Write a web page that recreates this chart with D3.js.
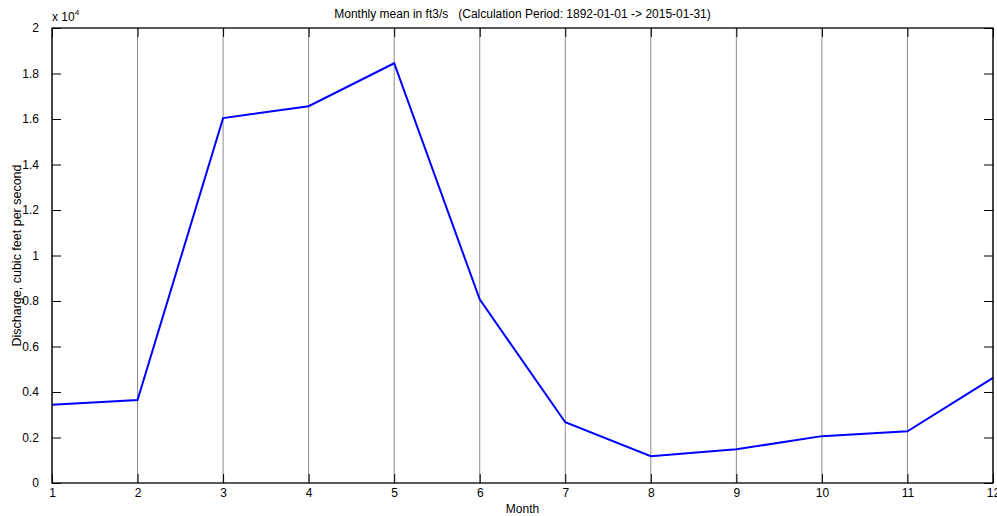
<!DOCTYPE html>
<html>
<head>
<meta charset="utf-8">
<script src="https://cdn.jsdelivr.net/npm/d3@7"></script>
<style>
  body { margin: 0; background: #fff; }
  svg text { font-family: "Liberation Sans", Arial, sans-serif; fill: #000; }
</style>
</head>
<body>
<div id="chart"></div>
<script>
// monthly mean discharge (ft3/s)
var months = [1, 2, 3, 4, 5, 6, 7, 8, 9, 10, 11, 12];
var discharge = [3440, 3650, 16040, 16560, 18450, 8070, 2670, 1180, 1480, 2060, 2270, 4620];
var yTicks = [0, 2000, 4000, 6000, 8000, 10000, 12000, 14000, 16000, 18000, 20000];

var W = 997, H = 516;
var m = {left: 52, right: 4, top: 28, bottom: 33};

var svg = d3.select("#chart").append("svg")
    .attr("width", W).attr("height", H);

var x = d3.scaleLinear().domain([1, 12]).range([m.left, W - m.right]);
var y = d3.scaleLinear().domain([0, 20000]).range([H - m.bottom, m.top]);

var tick = 9;

// vertical grid
svg.append("g").selectAll("line")
    .data(months)
  .enter().append("line")
    .attr("x1", function(d) { return x(d); })
    .attr("x2", function(d) { return x(d); })
    .attr("y1", y(0)).attr("y2", y(20000))
    .attr("stroke", "#8a8a8a").attr("stroke-width", 1);

// data line
var line = d3.line()
    .x(function(d, i) { return x(months[i]); })
    .y(function(d) { return y(d); });

svg.append("path")
    .datum(discharge)
    .attr("d", line)
    .attr("fill", "none")
    .attr("stroke", "#0000ff")
    .attr("stroke-width", 2);

// axes with inward ticks
var fmt = function(d) { return d3.format("")(+(d / 10000).toFixed(1)); };

svg.append("g")
    .attr("transform", "translate(0," + y(0) + ")")
    .call(d3.axisBottom(x).tickValues(months).tickSize(-tick).tickPadding(5).tickFormat(d3.format("d")))
    .call(function(g) { g.select(".domain").remove(); });

svg.append("g")
    .attr("transform", "translate(0," + y(20000) + ")")
    .call(d3.axisTop(x).tickValues(months).tickSize(-tick).tickFormat(""))
    .call(function(g) { g.select(".domain").remove(); });

svg.append("g")
    .attr("transform", "translate(" + x(1) + ",0)")
    .call(d3.axisLeft(y).tickValues(yTicks).tickSize(-tick).tickPadding(13).tickFormat(fmt))
    .call(function(g) { g.select(".domain").remove(); });

svg.append("g")
    .attr("transform", "translate(" + x(12) + ",0)")
    .call(d3.axisRight(y).tickValues(yTicks).tickSize(-tick).tickFormat(""))
    .call(function(g) { g.select(".domain").remove(); });

svg.selectAll(".tick line").attr("stroke", "#000").attr("stroke-width", 1);
svg.selectAll(".tick text").attr("font-size", 12).attr("fill", "#000")
    .style("font-family", "'Liberation Sans', Arial, sans-serif");

// frame
svg.append("rect")
    .attr("x", x(1)).attr("y", y(20000))
    .attr("width", x(12) - x(1)).attr("height", y(0) - y(20000))
    .attr("fill", "none").attr("stroke", "#000").attr("stroke-width", 1.3);

// exponent label
var ex = svg.append("text").attr("x", x(1)).attr("y", 21).attr("font-size", 12);
ex.append("tspan").text("x 10");
ex.append("tspan").attr("font-size", 8).attr("dy", -6).text("4");

// title
svg.append("text")
    .attr("x", (x(1) + x(12)) / 2).attr("y", 18)
    .attr("text-anchor", "middle").attr("font-size", 12)
    .attr("xml:space", "preserve")
    .text("Monthly mean in ft3/s   (Calculation Period: 1892-01-01 -> 2015-01-31)");

// x label
svg.append("text")
    .attr("x", (x(1) + x(12)) / 2).attr("y", 513)
    .attr("text-anchor", "middle").attr("font-size", 12)
    .text("Month");

// y label
svg.append("text")
    .attr("transform", "translate(21," + ((y(0) + y(20000)) / 2) + ") rotate(-90)")
    .attr("text-anchor", "middle").attr("font-size", 12.5)
    .text("Discharge, cubic feet per second");
</script>
</body>
</html>
